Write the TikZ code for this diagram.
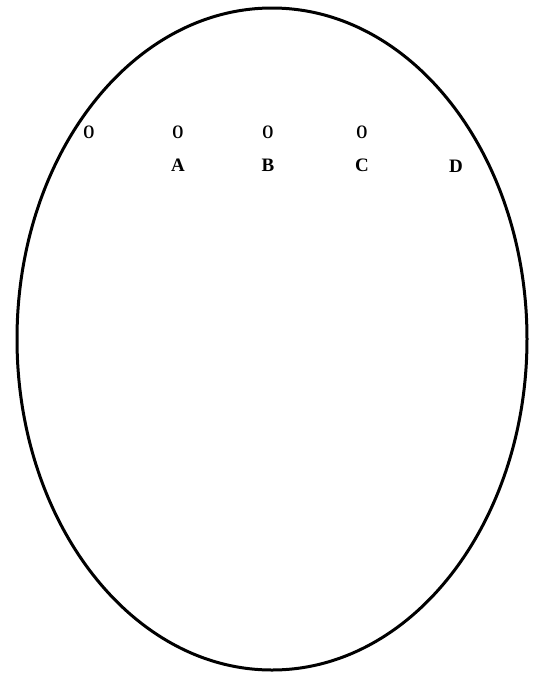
\documentclass[tikz,border=0pt]{standalone}
\usepackage{fontspec}
\setmainfont{Liberation Serif}
\begin{document}
\begin{tikzpicture}[x=1pt,y=-1pt,
  lbl/.style={font=\fontsize{19}{19}\selectfont\bfseries, inner sep=0pt},
  ptmark/.style={font=\fontsize{19}{19}\selectfont\bfseries, inner sep=0pt, xscale=0.75}]
\useasboundingbox (0,0) rectangle (536,678);
\draw[line width=3pt] (272,339) ellipse [x radius=255, y radius=331];
\node[ptmark] (o) at (89,132) {O};
\node[ptmark] (pa) at (178,132) {O};
\node[ptmark] (pb) at (268,132) {O};
\node[ptmark] (pc) at (362,132) {O};
\node[lbl] (a) at (178,165) {A};
\node[lbl] (b) at (268,165) {B};
\node[lbl] (c) at (362,165) {C};
\node[lbl] (d) at (456,166) {D};
\end{tikzpicture}
\end{document}
